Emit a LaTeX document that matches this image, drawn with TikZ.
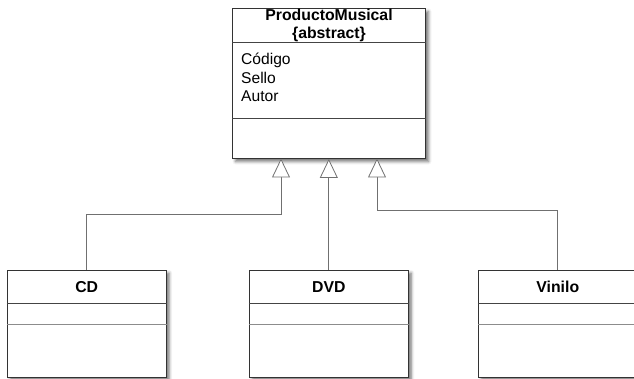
\documentclass[tikz,border=0pt]{standalone}
\usepackage{fontspec}
\setmainfont{Liberation Sans}
\usetikzlibrary{arrows.meta,shadows.blur}
\definecolor{boxline}{HTML}{333333}
\definecolor{sepdark}{HTML}{444444}
\definecolor{seplight}{HTML}{8C8C8C}
\definecolor{connector}{HTML}{707070}
\begin{document}
\begin{tikzpicture}[x=1pt,y=-1pt,
  cls/.style={draw=boxline, line width=0.9pt, fill=white, rectangle, inner sep=0pt,
    blur shadow={shadow xshift=3pt, shadow yshift=-3pt, shadow blur radius=3pt, shadow opacity=55}},
  clsname/.style={font=\bfseries\fontsize{15.8}{18}\selectfont, anchor=base, inner sep=0pt},
  attr/.style={font=\fontsize{15.6}{18}\selectfont, anchor=base west, inner sep=0pt},
  sepA/.style={draw=sepdark, line width=0.9pt},
  sepB/.style={draw=seplight, line width=0.9pt},
  gen/.style={draw=connector, line width=0.8pt,
    -{Triangle[width=18pt,length=19pt,fill=white,line width=0.8pt]}}]
\useasboundingbox (0,0) rectangle (634,379);
\clip (0,0) rectangle (634,379);

% abstract parent class
\node[cls, minimum width=193pt, minimum height=150pt] (pm) at (329,83.5) {};
\node[clsname] (pmname) at (329,20.7) {ProductoMusical};
\node[clsname] (pmabs) at (329,38.3) {\{abstract\}};
\draw[sepA] (pm.west |- 0,42) -- (pm.east |- 0,42);
\draw[sepA] (pm.west |- 0,118) -- (pm.east |- 0,118);
\node[attr] (a1) at (241,65) {Código};
\node[attr] (a2) at (241,83.4) {Sello};
\node[attr] (a3) at (241,101.8) {Autor};

% subclasses
\foreach \nm/\cx/\lbl in {cd/86.7/CD, dvd/328.8/DVD, vi/557.8/Vinilo}{
  \node[cls, minimum width=159pt, minimum height=107pt] (\nm) at (\cx,323.5) {};
  \node[clsname] (\nm name) at (\cx,292.7) {\lbl};
  \draw[sepA] (\nm.west |- 0,303.3) -- (\nm.east |- 0,303.3);
  \draw[sepB] (\nm.west |- 0,324) -- (\nm.east |- 0,324);
}

% generalisation connectors
\coordinate (pmL) at (281,158.5);
\coordinate (pmR) at (377,158.5);
\coordinate (jcd) at (281,214);
\coordinate (jvi) at (377,210);
\draw[gen] (cd.north) |- (jcd) -- (pmL);
\draw[gen] (dvd.north) -- (dvd.north |- pm.south);
\draw[gen] (vi.north) |- (jvi) -- (pmR);
\end{tikzpicture}
\end{document}
